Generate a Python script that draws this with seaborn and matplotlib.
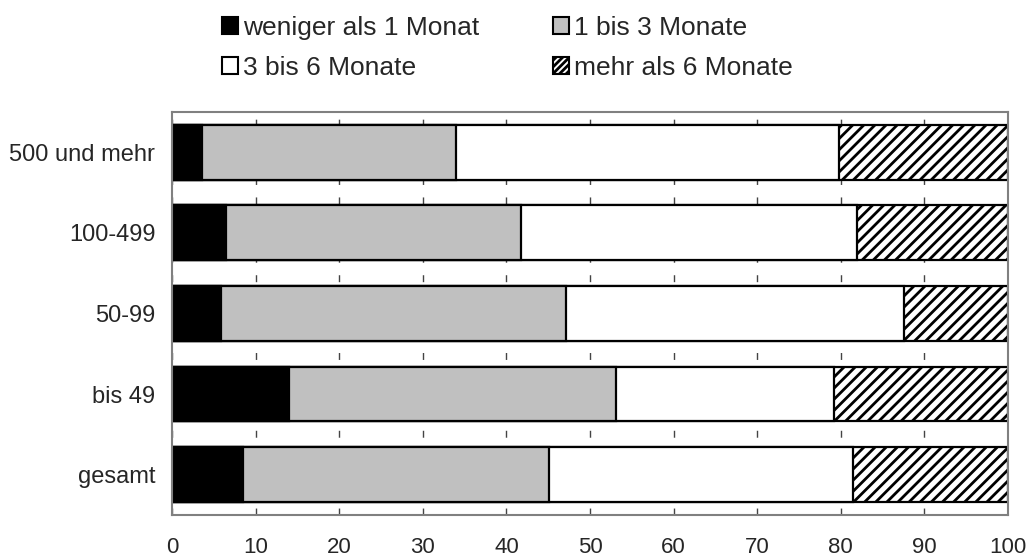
import matplotlib
matplotlib.use("Agg")
import matplotlib.pyplot as plt
import seaborn as sns
import numpy as np
import pandas as pd
from matplotlib.patches import Patch

# categories (top to bottom) and shares in percent
groups = ['500 und mehr', '100-499', '50-99', 'bis 49', 'gesamt']
lt1 = [3.6, 6.5, 5.9, 14.0, 8.5]
m1_3 = [30.4, 35.3, 41.2, 39.1, 36.6]
m3_6 = [45.8, 40.1, 40.5, 26.1, 36.4]
gt6 = [20.2, 18.1, 12.4, 20.8, 18.5]

series = ['weniger als 1 Monat', '1 bis 3 Monate', '3 bis 6 Monate', 'mehr als 6 Monate']
colors = ['#000000', '#c0c0c0', '#ffffff', '#ffffff']
hatches = ['', '', '', '///']

sns.set_style("white")
plt.rcParams['font.family'] = ['Liberation Sans', 'DejaVu Sans']
plt.rcParams['hatch.linewidth'] = 2.0
plt.rcParams['hatch.color'] = 'black'

df = pd.DataFrame({'group': groups, series[0]: lt1, series[1]: m1_3,
                   series[2]: m3_6, series[3]: gt6})
cum = df[series].cumsum(axis=1)

fig = plt.figure(figsize=(10.27, 5.58), dpi=100)
ax = fig.add_axes([0.1675, 0.0771, 0.814, 0.7222])

# draw cumulative bars from the longest to the shortest so they stack
for i in range(len(series) - 1, -1, -1):
    n_before = len(ax.patches)
    sns.barplot(x=cum[series[i]], y=df['group'], orient='h', color=colors[i],
                width=0.68, edgecolor='black', linewidth=1.6, ax=ax, zorder=2)
    for p in ax.patches[n_before:]:
        p.set_facecolor(colors[i])
        p.set_hatch(hatches[i])
        p.set_edgecolor('black')

ax.set_xlim(0, 100)
ax.set_ylim(4.5, -0.5)
ax.set_xticks(np.arange(0, 101, 10))
ax.set_xlabel('')
ax.set_ylabel('')
ax.tick_params(axis='x', labelsize=16, length=0, pad=16)
ax.tick_params(axis='y', labelsize=17, length=0, pad=12)
ax.grid(axis='x', color='#444444', linestyle=(0, (5, 9)), linewidth=1, zorder=0)
ax.set_axisbelow(True)
for s in ax.spines.values():
    s.set_color('#808080')
    s.set_linewidth(1.5)
    s.set_visible(True)

handles = [Patch(facecolor=colors[0], edgecolor='black', linewidth=1.5, label=series[0]),
           Patch(facecolor=colors[2], edgecolor='black', linewidth=1.5, label=series[2]),
           Patch(facecolor=colors[1], edgecolor='black', linewidth=1.5, label=series[1]),
           Patch(facecolor=colors[3], edgecolor='black', linewidth=1.5, hatch='/////', label=series[3])]
fig.legend(handles=handles, loc='center', bbox_to_anchor=(0.494, 0.914), ncol=2,
           frameon=False, fontsize=19, handlelength=0.6, handleheight=0.6,
           handletextpad=0.2, columnspacing=2.8, labelspacing=0.6)

fig.savefig('out.png', dpi=100)
